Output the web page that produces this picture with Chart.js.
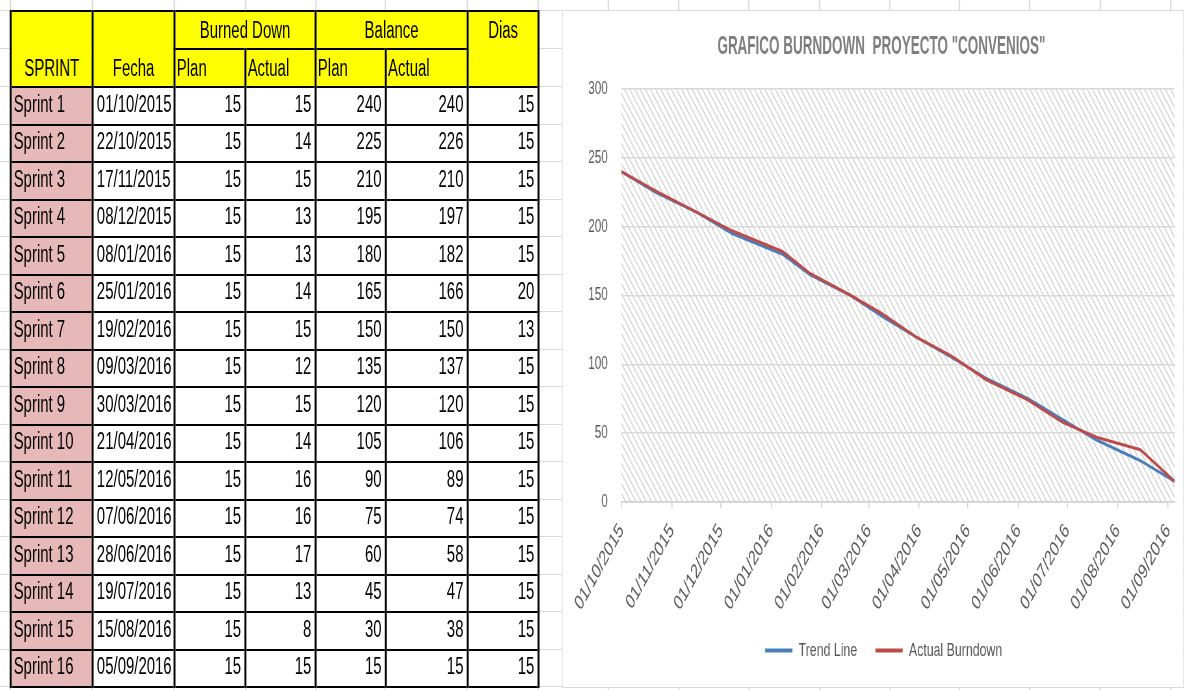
<!DOCTYPE html>
<html lang="es">
<head>
<meta charset="utf-8">
<title>Burndown Convenios</title>
<script src="https://cdn.jsdelivr.net/npm/chart.js@4.4.1/dist/chart.umd.min.js"></script>
<style>
  html, body { margin: 0; padding: 0; background: #fff; overflow: hidden; }
  /* la hoja se dibuja ancha y se comprime en horizontal */
  #hoja { position: absolute; left: 0; top: 0; width: 1822px; height: 690px;
          transform: scaleX(0.65); transform-origin: 0 0;
          font-family: 'Liberation Sans', Arial, sans-serif; }
  .gv { position: absolute; top: 0; width: 1.5px; height: 690px; background: #dadada; }
  .gh { position: absolute; left: 0; width: 1822px; height: 1px; background: #dadada; }
  #tabla { position: absolute; left: 15px; top: 10px; width: 812px; border-collapse: collapse;
           table-layout: fixed; font-size: 23px; line-height: 23px; color: #000; }
  #tabla th, #tabla td { border-style: solid; border-color: #000; border-width: 2px 3px;
           padding: 0 5px 8px 5px; vertical-align: bottom; white-space: nowrap;
           overflow: hidden; font-weight: normal; }
  #tabla th { background: #ffff00; text-align: center; padding-bottom: 6px; }
  #tabla thead tr { height: 38px; }
  #tabla tbody tr { height: 37.5px; }
  #tabla td { text-align: right; background: #fff; }
  #tabla td.sprint { text-align: left; padding-left: 3px; background: #e6b8b7; }
  #tabla th.izq { text-align: left; padding-left: 2px; }
  #tabla th.arriba { vertical-align: top; padding-top: 7px; }
  #grafico { position: absolute; left: 865px; top: 10px; width: 956px; height: 678px;
             background: #fff; border: 1px solid #d9d9d9; border-left-width: 1.5px;
             border-right-width: 1.5px; box-sizing: border-box; }
  #lienzo { position: absolute; left: 0; top: 0; width: 100%; height: 100%; }
  #titulo { position: absolute; top: 22px; left: 490px; white-space: pre;
            transform: translateX(-50%) scaleX(0.83); font-weight: bold;
            font-size: 25px; line-height: 25px; color: #7f7f7f; }
</style>
</head>
<body>
<div id="hoja">
  <div id="rejilla"></div>
  <table id="tabla">
    <colgroup>
      <col style="width:126px"><col style="width:126px"><col style="width:109px">
      <col style="width:108px"><col style="width:108px"><col style="width:126px">
      <col style="width:109px">
    </colgroup>
    <thead>
      <tr>
        <th rowspan="2">SPRINT</th>
        <th rowspan="2">Fecha</th>
        <th colspan="2">Burned Down</th>
        <th colspan="2">Balance</th>
        <th rowspan="2" class="arriba">Dias</th>
      </tr>
      <tr>
        <th class="izq">Plan</th><th class="izq">Actual</th>
        <th class="izq">Plan</th><th class="izq">Actual</th>
      </tr>
    </thead>
    <tbody id="cuerpo"></tbody>
  </table>
  <div id="grafico">
    <div id="lienzo"><canvas id="burndown"></canvas></div>
    <div id="titulo">GRAFICO BURNDOWN  PROYECTO "CONVENIOS"</div>
  </div>
</div>
<script>
const sprints = ['Sprint 1', 'Sprint 2', 'Sprint 3', 'Sprint 4', 'Sprint 5', 'Sprint 6',
                 'Sprint 7', 'Sprint 8', 'Sprint 9', 'Sprint 10', 'Sprint 11', 'Sprint 12',
                 'Sprint 13', 'Sprint 14', 'Sprint 15', 'Sprint 16'];
const fechas = ['01/10/2015', '22/10/2015', '17/11/2015', '08/12/2015', '08/01/2016', '25/01/2016',
                '19/02/2016', '09/03/2016', '30/03/2016', '21/04/2016', '12/05/2016', '07/06/2016',
                '28/06/2016', '19/07/2016', '15/08/2016', '05/09/2016'];
const burnedPlan   = [15, 15, 15, 15, 15, 15, 15, 15, 15, 15, 15, 15, 15, 15, 15, 15];
const burnedActual = [15, 14, 15, 13, 13, 14, 15, 12, 15, 14, 16, 16, 17, 13, 8, 15];
const balancePlan   = [240, 225, 210, 195, 180, 165, 150, 135, 120, 105, 90, 75, 60, 45, 30, 15];
const balanceActual = [240, 226, 210, 197, 182, 166, 150, 137, 120, 106, 89, 74, 58, 47, 38, 15];
const dias = [15, 15, 15, 15, 15, 20, 13, 15, 15, 15, 15, 15, 15, 15, 15, 15];

const mesesEje = ['01/10/2015', '01/11/2015', '01/12/2015', '01/01/2016', '01/02/2016', '01/03/2016',
                  '01/04/2016', '01/05/2016', '01/06/2016', '01/07/2016', '01/08/2016', '01/09/2016'];

// rejilla de la hoja de cálculo (columnas y filas de Excel)
const colsHoja = [15, 141, 267, 377, 485, 592, 718, 827, 935, 1043, 1151, 1260, 1368, 1475, 1583, 1692, 1800];
const rejilla = document.getElementById('rejilla');
colsHoja.forEach(x => {
    const d = document.createElement('div');
    d.className = 'gv';
    d.style.left = x + 'px';
    rejilla.appendChild(d);
});
for (let i = 0; i <= 18; i++) {
    const y = i <= 2 ? 10 + i * 38 : 86 + (i - 2) * 37.5;
    const d = document.createElement('div');
    d.className = 'gh';
    d.style.top = y + 'px';
    rejilla.appendChild(d);
}

// tabla
const cuerpo = document.getElementById('cuerpo');
sprints.forEach((s, i) => {
    const tr = document.createElement('tr');
    const celdas = [s, fechas[i], burnedPlan[i], burnedActual[i], balancePlan[i], balanceActual[i], dias[i]];
    celdas.forEach((v, j) => {
        const td = document.createElement('td');
        td.textContent = v;
        if (j === 0) td.className = 'sprint';
        tr.appendChild(td);
    });
    cuerpo.appendChild(tr);
});

// fechas dd/mm/aaaa -> días desde el inicio
function aFecha(s) {
    const [d, m, a] = s.split('/').map(Number);
    return Date.UTC(a, m - 1, d);
}
const inicio = aFecha(fechas[0]);
const dia = s => (aFecha(s) - inicio) / 86400000;

const FUENTE = "'Liberation Sans', Arial, sans-serif";
const GRIS = '#595959';

// fondo rayado del área de trazado
const rayado = {
    id: 'rayado',
    beforeDraw(chart) {
        const { ctx, chartArea: a } = chart;
        const t = document.createElement('canvas');
        t.width = 8; t.height = 10;
        const c = t.getContext('2d');
        c.strokeStyle = '#cdcdcd';
        c.lineWidth = 1.4;
        for (let k = -1; k <= 1; k++) {
            c.beginPath();
            c.moveTo(k * 8, 0);
            c.lineTo(k * 8 + 8, 10);
            c.stroke();
        }
        ctx.save();
        ctx.fillStyle = ctx.createPattern(t, 'repeat');
        ctx.fillRect(a.left, a.top, a.right - a.left, a.bottom - a.top);
        ctx.restore();
    }
};

// la leyenda va centrada un poco a la derecha, bajo el área de trazado
const moverLeyenda = {
    id: 'moverLeyenda',
    afterLayout(chart) {
        chart.legend.left += 14;
        chart.legend.right += 14;
    }
};

const ctx = document.getElementById('burndown').getContext('2d');
new Chart(ctx, {
    type: 'line',
    data: {
        datasets: [
            {
                label: 'Trend Line',
                data: fechas.map((f, i) => ({ x: dia(f), y: balancePlan[i] })),
                borderColor: '#4a7ebb',
                backgroundColor: '#4a7ebb',
                borderWidth: 3,
                pointRadius: 0,
                tension: 0,
                order: 1
            },
            {
                label: 'Actual Burndown',
                data: fechas.map((f, i) => ({ x: dia(f), y: balanceActual[i] })),
                borderColor: '#be4b48',
                backgroundColor: '#be4b48',
                borderWidth: 3,
                pointRadius: 0,
                tension: 0,
                order: 0
            }
        ]
    },
    options: {
        responsive: true,
        maintainAspectRatio: false,
        animation: false,
        devicePixelRatio: 1,
        layout: { padding: { left: 18, right: 13, top: 78, bottom: 17 } },
        plugins: {
            tooltip: { enabled: false },
            legend: {
                position: 'bottom',
                labels: {
                    usePointStyle: true,
                    pointStyle: 'line',
                    pointStyleWidth: 42,
                    padding: 28,
                    color: GRIS,
                    font: { family: FUENTE, size: 19 },
                    sort: (a, b) => a.datasetIndex - b.datasetIndex,
                    generateLabels: chart => Chart.defaults.plugins.legend.labels
                        .generateLabels(chart).map(l => ({ ...l, lineWidth: 4 }))
                }
            }
        },
        scales: {
            x: {
                type: 'linear',
                min: dia(fechas[0]),
                max: dia(fechas[fechas.length - 1]),
                afterBuildTicks: axis => {
                    axis.ticks = mesesEje.map(m => ({ value: dia(m) }));
                },
                // alto fijo del eje para que las fechas giradas no desplacen el área de trazado
                afterFit: axis => {
                    axis.height = 111;
                    axis.paddingRight = 0;
                },
                ticks: {
                    autoSkip: false,
                    minRotation: 50,
                    maxRotation: 50,
                    padding: 11,
                    color: GRIS,
                    font: { family: FUENTE, size: 21 },
                    callback: (v, i) => mesesEje[i]
                },
                grid: { drawOnChartArea: false, color: '#d0d0d0', lineWidth: 1.5, tickLength: 6 },
                border: { color: '#d0d0d0', width: 1.5 }
            },
            y: {
                min: 0,
                max: 300,
                ticks: { stepSize: 50, padding: 21, color: GRIS, font: { family: FUENTE, size: 18 } },
                grid: { color: '#d9d9d9', lineWidth: 1.5, drawTicks: false },
                border: { display: false }
            }
        }
    },
    plugins: [rayado, moverLeyenda]
});
</script>
</body>
</html>
